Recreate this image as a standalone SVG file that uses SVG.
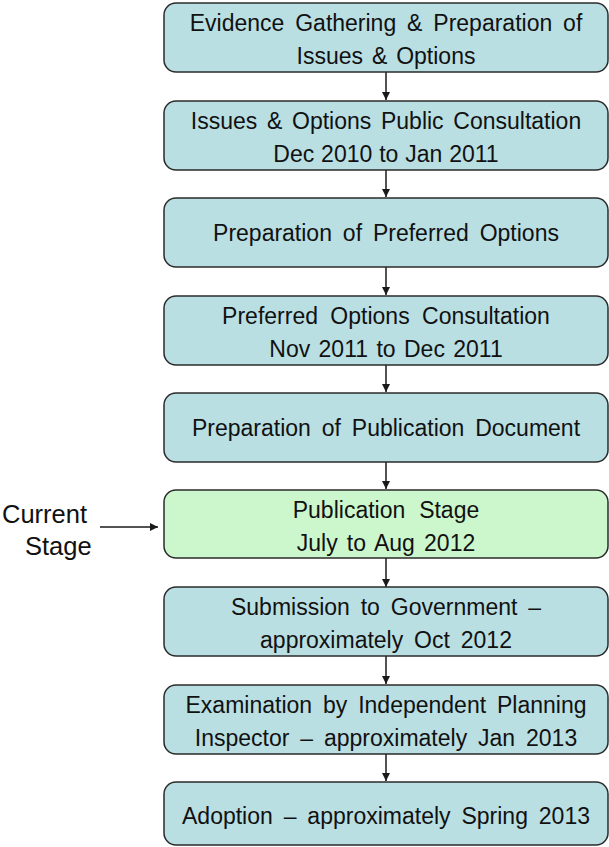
<svg xmlns="http://www.w3.org/2000/svg" width="609" height="847" viewBox="0 0 609 847">
<style>
.box{fill:#b9dfe3;stroke:#2b2b2b;stroke-width:1.5}
.cur{fill:#ccf7cc;stroke:#2b2b2b;stroke-width:1.5}
text{font-family:"Liberation Sans",Arial,sans-serif;font-size:23px;fill:#111111;text-anchor:middle;word-spacing:4.5px}
.side{font-size:25.5px;text-anchor:start;word-spacing:0}
.con{stroke:#1a1a1a;stroke-width:1.5;fill:none;marker-end:url(#ah)}
</style>
<defs>
<marker id="ah" viewBox="0 0 10 10" refX="10" refY="5" markerWidth="8" markerHeight="8" markerUnits="userSpaceOnUse" orient="auto">
<path d="M0,0 L10,5 L0,10 z" fill="#1a1a1a"/>
</marker>
</defs>
<rect width="609" height="847" fill="#ffffff"/>
<g id="connectors">
<line class="con" x1="386" y1="72" x2="386" y2="100"/>
<line class="con" x1="386" y1="170" x2="386" y2="197"/>
<line class="con" x1="386" y1="267" x2="386" y2="295"/>
<line class="con" x1="386" y1="365" x2="386" y2="392"/>
<line class="con" x1="386" y1="462" x2="386" y2="489"/>
<line class="con" x1="386" y1="558" x2="386" y2="587"/>
<line class="con" x1="386" y1="656" x2="386" y2="684"/>
<line class="con" x1="386" y1="754" x2="386" y2="781"/>
<line class="con" x1="100" y1="527" x2="158" y2="527"/>
</g>
<g id="n1"><rect class="box" x="164" y="3" width="444" height="69" rx="12"/>
<text x="386" y="31">Evidence Gathering &amp; Preparation of</text>
<text x="386" y="64" style="word-spacing:2.5px">Issues &amp; Options</text></g>
<g id="n2"><rect class="box" x="164" y="101" width="444" height="69" rx="12"/>
<text x="386" y="129" style="word-spacing:3.3px">Issues &amp; Options Public Consultation</text>
<text x="386" y="162" style="word-spacing:0.5px">Dec 2010 to Jan 2011</text></g>
<g id="n3"><rect class="box" x="164" y="198" width="444" height="69" rx="12"/>
<text x="386" y="241">Preparation of Preferred Options</text></g>
<g id="n4"><rect class="box" x="164" y="296" width="444" height="69" rx="12"/>
<text x="386" y="324" style="word-spacing:6px">Preferred Options Consultation</text>
<text x="386" y="357" style="word-spacing:2px">Nov 2011 to Dec 2011</text></g>
<g id="n5"><rect class="box" x="164" y="393" width="444" height="69" rx="12"/>
<text x="386" y="436">Preparation of Publication Document</text></g>
<g id="n6"><rect class="cur" x="164" y="490" width="444" height="68" rx="12"/>
<text x="386" y="518" style="word-spacing:7.5px">Publication Stage</text>
<text x="386" y="551" style="word-spacing:2.8px">July to Aug 2012</text></g>
<g id="n7"><rect class="box" x="164" y="587" width="444" height="69" rx="12"/>
<text x="386" y="615">Submission to Government –</text>
<text x="386" y="648">approximately Oct 2012</text></g>
<g id="n8"><rect class="box" x="164" y="685" width="444" height="69" rx="12"/>
<text x="386" y="713">Examination by Independent Planning</text>
<text x="386" y="746">Inspector – approximately Jan 2013</text></g>
<g id="n9"><rect class="box" x="164" y="782" width="444" height="63" rx="12"/>
<text x="386" y="824">Adoption – approximately Spring 2013</text></g>
<g id="current-label">
<text class="side" x="2" y="523">Current</text>
<text class="side" x="25" y="555">Stage</text>
</g>
</svg>
